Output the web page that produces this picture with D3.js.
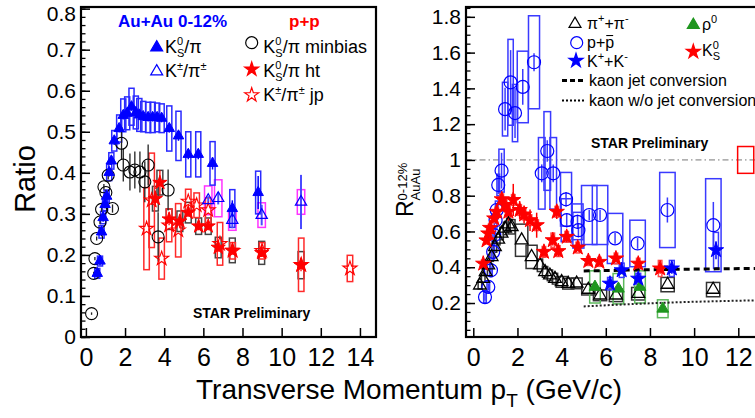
<!DOCTYPE html>
<html><head><meta charset="utf-8">
<script src="https://cdn.jsdelivr.net/npm/d3@7"></script>
<style>html,body{margin:0;padding:0;background:#fff;}svg{display:block;}text{white-space:pre;}</style>
</head><body>
<svg id="c" width="755" height="418"></svg>
<script>
// ---------------- LEFT PANEL DATA (Ratio vs pT) ----------------
const aaK0X   = [0.58,0.72,0.8,0.88,0.98,1.06,1.19,1.3,1.45,1.7,1.91,2.11,2.33,2.55,2.73,2.93,3.18,3.41,3.64,3.87,4.26,4.73,5.23,5.74,6.47,7.48,8.8];
const aaK0Y   = [0.155,0.185,0.256,0.291,0.323,0.343,0.401,0.429,0.478,0.508,0.54,0.545,0.561,0.547,0.541,0.537,0.535,0.535,0.535,0.533,0.508,0.49,0.445,0.445,0.423,0.313,0.352];
const aaK0Sys = [0.012,0.012,0.015,0.015,0.015,0.015,0.02,0.02,0.025,0.033,0.04,0.04,0.045,0.04,0.04,0.037,0.037,0.037,0.035,0.035,0.055,0.06,0.055,0.055,0.053,0.046,0.052];
const aaK0Err = [0.01,0.01,0.01,0.01,0.01,0.01,0.01,0.01,0.01,0.01,0.01,0.01,0.01,0.01,0.01,0.01,0.01,0.01,0.01,0.01,0.01,0.012,0.012,0.012,0.015,0.02,0.04];

const aaKchX   = [6.25,6.76,7.48,8.98,10.99];
const aaKchY   = [0.333,0.338,0.285,0.297,0.329];
const aaKchSys = [0.035,0.045,0.025,0.03,0.03];
const aaKchErr = [0.01,0.015,0.02,0.025,0.066];

const ppMbX   = [0.29,0.4,0.46,0.55,0.72,0.8,0.92,1.02,1.14,1.36,1.82,1.91,2.25,2.5,2.76,3.01,3.18,3.69,4.2];
const ppMbY   = [0.057,0.155,0.191,0.24,0.28,0.311,0.366,0.352,0.394,0.313,0.472,0.419,0.402,0.407,0.402,0.378,0.419,0.244,0.358];
const ppMbErr = [0.003,0.004,0.004,0.005,0.005,0.006,0.007,0.007,0.01,0.01,0.04,0.04,0.045,0.045,0.05,0.05,0.05,0.06,0.05];

const ppHtX   = [3.55,3.78,4.25,4.8,5.23,5.76,6.25,6.76,7.48,8.98,10.99];
const ppHtY   = [0.337,0.376,0.287,0.282,0.303,0.27,0.27,0.218,0.211,0.205,0.175];
const ppHtSys = [0.03,0.03,0.025,0.025,0.025,0.02,0.02,0.025,0.03,0.028,0.033];
const ppHtErr = [0.02,0.03,0.015,0.015,0.01,0.01,0.01,0.01,0.01,0.01,0.015];

const ppJpX   = [3.1,3.36,3.87,4.25,4.72,5.23,5.66,6.25,6.85,7.5,9.0,11.0,13.49];
const ppJpY   = [0.264,0.333,0.191,0.272,0.26,0.33,0.321,0.309,0.227,0.21,0.21,0.176,0.167];
const ppJpSys = [0.1,0.115,0.05,0.04,0.065,0.03,0.03,0.03,0.052,0.02,0.02,0.065,0.032];

const leftYTicks = [0,0.1,0.2,0.3,0.4,0.5,0.6,0.7,0.8];
const leftXTicks = [0,2,4,6,8,10,12,14];

// ---------------- RIGHT PANEL DATA (R_AA vs pT) ----------------
const piX   = [0.3,0.45,0.56,0.68,0.83,0.98,1.13,1.28,1.44,1.59,1.74,2.19,2.64,3.02,3.25,3.47,3.7,4.0,4.3,4.68,5.21,5.74,6.46,7.47,8.8,10.86];
const piY   = [0.299,0.336,0.374,0.411,0.458,0.514,0.555,0.589,0.617,0.641,0.626,0.551,0.458,0.411,0.374,0.355,0.336,0.318,0.308,0.31,0.275,0.243,0.243,0.252,0.303,0.275];
const piSys = [0.02,0.02,0.02,0.02,0.025,0.03,0.03,0.035,0.035,0.04,0.04,0.09,0.065,0.035,0.03,0.03,0.03,0.03,0.03,0.03,0.03,0.03,0.035,0.035,0.04,0.04];
const piBoxW= [0.08,0.08,0.08,0.08,0.08,0.08,0.08,0.08,0.08,0.08,0.15,0.28,0.25,0.12,0.12,0.12,0.12,0.25,0.25,0.25,0.3,0.3,0.3,0.3,0.3,0.3];

const prX   = [0.53,0.68,0.8,0.9,0.95,1.01,1.06,1.13,1.28,1.44,1.69,1.89,2.24,2.75,3.1,3.35,3.62,4.2,4.23,4.72,4.76,5.25,5.74,6.42,7.44,8.79,10.87];
const prY   = [0.233,0.29,0.383,0.486,0.579,0.663,0.72,0.86,0.94,1.284,1.434,1.262,1.408,1.546,0.925,1.05,0.925,0.78,0.663,0.654,0.607,0.692,0.692,0.561,0.533,0.72,0.635];
const prSys = [0.03,0.03,0.035,0.04,0.045,0.05,0.05,0.06,0.12,0.15,0.24,0.16,0.2,0.26,0.2,0.22,0.2,0.15,0.12,0.1,0.1,0.165,0.165,0.14,0.13,0.21,0.26];
const prErr = [0.02,0.02,0.02,0.02,0.02,0.02,0.03,0.05,0.1,0.12,0.18,0.14,0.1,0.05,0.05,0.06,0.05,0.04,0.04,0.04,0.04,0.03,0.03,0.03,0.03,0.07,0.13];
const prBoxW= [0.06,0.06,0.06,0.06,0.06,0.06,0.06,0.06,0.12,0.12,0.12,0.12,0.25,0.25,0.15,0.15,0.15,0.25,0.25,0.25,0.25,0.35,0.35,0.35,0.35,0.35,0.35];

const kchX   = [6.19,6.72,7.47,8.99,10.99];
const kchY   = [0.308,0.383,0.336,0.393,0.495];
const kchSys = [0.035,0.04,0.03,0.045,0.1];
const kchErr = [0.02,0.02,0.02,0.03,0.05];

const k0X   = [0.45,0.6,0.68,0.76,0.95,1.06,1.29,1.44,1.59,1.81,2.1,2.3,2.57,2.87,3.2,3.6,3.78,3.85,4.23,4.73,5.21,5.71,6.46,7.47,8.46];
const k0Y   = [0.42,0.55,0.589,0.62,0.673,0.71,0.78,0.748,0.71,0.776,0.72,0.695,0.663,0.635,0.486,0.551,0.71,0.49,0.57,0.51,0.435,0.43,0.449,0.42,0.393];
const k0Sys = [0.02,0.02,0.02,0.02,0.025,0.025,0.03,0.03,0.03,0.03,0.03,0.03,0.03,0.03,0.03,0.04,0.03,0.03,0.03,0.03,0.025,0.025,0.03,0.03,0.045];
const k0Err = [0.01,0.01,0.01,0.01,0.02,0.02,0.04,0.04,0.05,0.09,0.05,0.05,0.06,0.07,0.03,0.03,0.04,0.03,0.03,0.02,0.02,0.02,0.02,0.03,0.03];

const rhoX   = [5.51,6.57,7.55,8.58];
const rhoY   = [0.29,0.28,0.29,0.168];
const rhoSys = [0.09,0.085,0.09,0.05];

const jetX   = [5,7,9,11,13.2];
const jetY   = [0.379,0.384,0.388,0.391,0.394];
const noJetX = [5,7,9,11,13.2];
const noJetY = [0.181,0.193,0.203,0.21,0.216];

const rightYTicks = [0.2,0.4,0.6,0.8,1,1.2,1.4,1.6,1.8];
const rightXTicks = [0,2,4,6,8,10,12];

// ---------------- DRAWING ----------------
const FONT = "'Liberation Sans', Arial, Helvetica, sans-serif";
const NB = '\u00a0';
const svg = d3.select('#c');
const BLUE='#0000ff', RED='#ff0000', MAG='#ff33ff', GREEN='#1f961f', BLACK='#000';

const xL = d3.scaleLinear().domain([-0.25,14.82]).range([81,376]);
const yL = d3.scaleLinear().domain([0,0.804]).range([337,7]);
const xR = d3.scaleLinear().domain([-0.33,13.2]).range([466,764.8]);
const yR = d3.scaleLinear().domain([0.01,1.855]).range([337,7]);

const defs = svg.append('defs');
defs.append('clipPath').attr('id','clipL').append('rect').attr('x',82).attr('y',8).attr('width',293).attr('height',328);
defs.append('clipPath').attr('id','clipR').append('rect').attr('x',467).attr('y',8).attr('width',300).attr('height',328);

const gL = svg.append('g').attr('clip-path','url(#clipL)');
const gR = svg.append('g').attr('clip-path','url(#clipR)');

function zip(xs, ys, a, b){ return xs.map((x,i)=>({x, y:ys[i], s:a?a[i]:0, e:b?b[i]:0})); }

function boxes(g, x, y, data, hw, color, sw){
  const H = i => Array.isArray(hw) ? hw[i] : hw;
  g.append('g').selectAll('rect').data(data).join('rect')
    .attr('x', (d,i)=> x(d.x - H(i)))
    .attr('width', (d,i)=> x(d.x + H(i)) - x(d.x - H(i)))
    .attr('y', d=> y(d.y + d.s)).attr('height', d=> y(d.y - d.s) - y(d.y + d.s))
    .attr('fill','none').attr('stroke', color).attr('stroke-width', sw||1.5);
}
function errs(g, x, y, data, color, sw){
  g.append('g').selectAll('line').data(data.filter(d=>d.e>0)).join('line')
    .attr('x1', d=>x(d.x)).attr('x2', d=>x(d.x))
    .attr('y1', d=>y(d.y + d.e)).attr('y2', d=>y(d.y - d.e))
    .attr('stroke', color).attr('stroke-width', sw||1.5);
}
function marks(g, x, y, data, type, size, color, filled, sw){
  const sym = d3.symbol().type(type).size(size);
  g.append('g').selectAll('path').data(data).join('path')
    .attr('transform', d=>`translate(${x(d.x)},${y(d.y)})`)
    .attr('d', sym)
    .attr('fill', filled ? color : 'none')
    .attr('stroke', color).attr('stroke-width', sw||1.2);
}
function circles(g, x, y, data, r, color, sw){
  g.append('g').selectAll('circle').data(data).join('circle')
    .attr('cx', d=>x(d.x)).attr('cy', d=>y(d.y)).attr('r', r)
    .attr('fill','none').attr('stroke', color).attr('stroke-width', sw||1.2);
}

// ---- left panel marks ----
const dK0 = zip(aaK0X, aaK0Y, aaK0Sys, aaK0Err);
const dKch = zip(aaKchX, aaKchY, aaKchSys, aaKchErr);
const dMb = zip(ppMbX, ppMbY, null, ppMbErr);
const dHt = zip(ppHtX, ppHtY, ppHtSys, ppHtErr);
const dJp = zip(ppJpX, ppJpY, ppJpSys, null);

boxes(gL, xL, yL, dHt, 0.15, '#444', 1.5);
boxes(gL, xL, yL, dJp, 0.14, '#ff2a2a', 1.5);
boxes(gL, xL, yL, dKch, 0.19, MAG, 1.5);
boxes(gL, xL, yL, dK0, 0.13, '#2a2aff', 1.5);
errs(gL, xL, yL, dMb, '#222', 1.3);
errs(gL, xL, yL, dHt, RED, 1.3);
errs(gL, xL, yL, dKch, '#4a4aff', 2);
errs(gL, xL, yL, dK0, BLUE, 1.5);
circles(gL, xL, yL, dMb, 6, BLACK, 1.1);
marks(gL, xL, yL, dJp, d3.symbolStar, 62, RED, false, 1.1);
marks(gL, xL, yL, dHt, d3.symbolStar, 62, RED, true, 1);
marks(gL, xL, yL, dKch, d3.symbolTriangle, 55, BLUE, false, 1.2);
marks(gL, xL, yL, dK0, d3.symbolTriangle, 48, BLUE, true, 1);

// ---- right panel marks ----
gR.append('line').attr('x1',xR(-0.33)).attr('x2',xR(13.2)).attr('y1',yR(1)).attr('y2',yR(1))
  .attr('stroke','#777').attr('stroke-width',1).attr('stroke-dasharray','6,3,1.5,3');
gR.append('rect').attr('x',xR(11.97)).attr('width',xR(12.7)-xR(11.97))
  .attr('y',yR(1.075)).attr('height',yR(0.925)-yR(1.075)).attr('fill','none').attr('stroke',RED).attr('stroke-width',1.5);

const dPi = zip(piX, piY, piSys, null);
const dPr = zip(prX, prY, prSys, prErr);
const dKc = zip(kchX, kchY, kchSys, kchErr);
const dK0s = zip(k0X, k0Y, k0Sys, k0Err);
const dRho = zip(rhoX, rhoY, rhoSys, null);

boxes(gR, xR, yR, dPi, piBoxW, '#333', 1.5);
boxes(gR, xR, yR, dPr, prBoxW, '#3a3aff', 1.5);
boxes(gR, xR, yR, dRho, 0.24, '#5cb85c', 1.5);
boxes(gR, xR, yR, dKc, 0.11, '#3a3aff', 1.5);
boxes(gR, xR, yR, dK0s, 0.08, '#ff4a4a', 1.5);
errs(gR, xR, yR, dPr, '#3a3aff', 1.5);
errs(gR, xR, yR, dK0s, RED, 1.5);
errs(gR, xR, yR, dKc, BLUE, 1.5);

const line = d3.line().x(d=>xR(d.x)).y(d=>yR(d.y)).curve(d3.curveMonotoneX);
gR.append('path').attr('d', line(zip(jetX, jetY))).attr('fill','none').attr('stroke','#000').attr('stroke-width',3).attr('stroke-dasharray','6,4');
gR.append('path').attr('d', line(zip(noJetX, noJetY))).attr('fill','none').attr('stroke','#222').attr('stroke-width',2).attr('stroke-dasharray','2,2');

circles(gR, xR, yR, dPr, 6.5, BLUE, 1.2);
marks(gR, xR, yR, dPi, d3.symbolTriangle, 70, BLACK, false, 1.3);
marks(gR, xR, yR, dRho, d3.symbolTriangle, 60, GREEN, true, 1);
marks(gR, xR, yR, dK0s, d3.symbolStar, 72, RED, true, 1);
marks(gR, xR, yR, dKc, d3.symbolStar, 72, BLUE, true, 1);
gR.append('rect').attr('x',xR(-0.15)).attr('width',xR(0.08)-xR(-0.15)).attr('y',yR(0.012)).attr('height',3).attr('fill',RED);

// ---- frames and axes ----
function axes(x, y, xt, yt, yMinor, x0, x1, yFmt, ylabPad){
  const ga = svg.append('g').attr('font-family', FONT);
  const ay = ga.append('g').attr('transform',`translate(${x0},0)`)
    .call(d3.axisLeft(y).tickValues(yt).tickSize(-9).tickPadding(ylabPad).tickFormat(yFmt));
  ay.select('.domain').remove();
  ay.selectAll('text').attr('font-size',21).attr('font-family',FONT).attr('fill','#000');
  ay.selectAll('line').attr('stroke','#000').attr('stroke-width',1.5);
  const am = ga.append('g').attr('transform',`translate(${x0},0)`)
    .call(d3.axisLeft(y).tickValues(yMinor).tickSize(-4.5).tickFormat(''));
  am.select('.domain').remove();
  am.selectAll('line').attr('stroke','#000').attr('stroke-width',1.3);
  const ax = ga.append('g').attr('transform',`translate(0,337)`)
    .call(d3.axisBottom(x).tickValues(xt).tickSize(-9).tickPadding(11).tickFormat(d3.format('d')));
  ax.select('.domain').remove();
  ax.selectAll('text').attr('font-size',25).attr('font-family',FONT).attr('fill','#000');
  ax.selectAll('line').attr('stroke','#000').attr('stroke-width',1.5);
  svg.append('rect').attr('x',x0).attr('y',7).attr('width',x1-x0).attr('height',330)
    .attr('fill','none').attr('stroke','#000').attr('stroke-width',2.2);
  return ay;
}
const fmt = d => d3.format('.2~g')(d);
const leftMinor = d3.range(0, 41).map(i=> i*0.02).filter(v=> v<=0.804);
const rightMinor = d3.range(1, 38).map(i=> i*0.05).filter(v=> v<=1.855 && v>=0.01);
const ayL = axes(xL, yL, leftXTicks, leftYTicks, leftMinor, 81, 376, fmt, 5);
ayL.selectAll('.tick').filter(d=> d===0.8).select('text').attr('dy','0.55em');
axes(xR, yR, rightXTicks, rightYTicks, rightMinor, 466, 768, fmt, 5);

// ---- rich text helper: one <text> with positioned <tspan>s ----
function rich(parent, x, y, segs, opts){
  opts = opts || {};
  const g = parent.append('g');
  const t = g.append('text').attr('font-family', FONT)
    .attr('font-weight', opts.weight || 'normal').attr('fill', opts.color || '#000');
  let cx = x, lastStart = x;
  segs.forEach(s => {
    const sx = s.stack ? lastStart : cx;
    const ts = t.append('tspan').attr('x', sx).attr('y', y + (s.dy||0))
      .attr('font-size', s.size).text(s.t);
    if (s.color) ts.attr('fill', s.color);
    const w = ts.node().getComputedTextLength();
    if (s.over) {
      g.append('line').attr('x1', sx+1).attr('x2', sx+w-1)
        .attr('y1', y + (s.dy||0) - s.size*0.78).attr('y2', y + (s.dy||0) - s.size*0.78)
        .attr('stroke', s.color || opts.color || '#000').attr('stroke-width', 1.1);
    }
    if (!s.stack) { lastStart = sx; cx = sx + w; } else { cx = Math.max(cx, sx + w); }
  });
  return g;
}

// ---- left legend ----
svg.append('text').attr('x',118).attr('y',26.7).attr('font-family',FONT).attr('font-weight','bold')
  .attr('font-size',17).attr('fill',BLUE).text('Au+Au 0-12%');
svg.append('text').attr('x',289).attr('y',26.7).attr('font-family',FONT).attr('font-weight','bold')
  .attr('font-size',17).attr('fill',RED).text('p+p');

function legMark(x, y, kind, size, color, filled){
  if (kind === 'circle') {
    svg.append('circle').attr('cx',x).attr('cy',y).attr('r',size).attr('fill','none').attr('stroke',color).attr('stroke-width',1.2);
  } else {
    svg.append('path').attr('transform',`translate(${x},${y})`).attr('d', d3.symbol().type(kind).size(size)())
      .attr('fill', filled?color:'none').attr('stroke',color).attr('stroke-width',1.2);
  }
}
const LS = 18, LSS = 11;
legMark(156.7, 47.5, d3.symbolTriangle, 62, BLUE, true);
rich(svg, 165, 52.7, [{t:'K',size:LS},{t:'0',size:LSS,dy:-8},{t:'S',size:LSS,dy:4,stack:true},{t:'/π',size:LS}]);
legMark(156.7, 71.5, d3.symbolTriangle, 62, BLUE, false);
rich(svg, 165, 77, [{t:'K',size:LS},{t:'±',size:LSS,dy:-7},{t:'/π',size:LS},{t:'±',size:LSS,dy:-7}]);

legMark(251.7, 42.7, 'circle', 6, BLACK);
rich(svg, 263.3, 52.7, [{t:'K',size:LS},{t:'0',size:LSS,dy:-8},{t:'S',size:LSS,dy:4,stack:true},{t:'/π'+NB+'minbias',size:LS}]);
legMark(251.7, 69.3, d3.symbolStar, 60, RED, true);
rich(svg, 263.3, 76.5, [{t:'K',size:LS},{t:'0',size:LSS,dy:-8},{t:'S',size:LSS,dy:4,stack:true},{t:'/π'+NB+'ht',size:LS}]);
legMark(251.7, 95, d3.symbolStar, 60, RED, false);
rich(svg, 263.3, 101, [{t:'K',size:LS},{t:'±',size:LSS,dy:-7},{t:'/π',size:LS},{t:'±',size:LSS,dy:-7},{t:NB+'jp',size:LS}]);

svg.append('text').attr('x',193).attr('y',318).attr('font-family',FONT).attr('font-weight','bold')
  .attr('font-size',14).attr('fill','#000').text('STAR Preliminary');

// ---- right legend ----
const RS = 16, RSS = 11;
legMark(575, 24, d3.symbolTriangle, 62, BLACK, false);
rich(svg, 587, 28.5, [{t:'π',size:RS},{t:'+',size:RSS,dy:-7},{t:'+π',size:RS},{t:'-',size:RSS,dy:-7}]);
legMark(576.7, 42.7, 'circle', 6, BLUE);
rich(svg, 587, 48, [{t:'p+',size:RS},{t:'p',size:RS,over:true}]);
legMark(576, 60.7, d3.symbolStar, 62, BLUE, true);
rich(svg, 587, 66.5, [{t:'K',size:RS},{t:'+',size:RSS,dy:-7},{t:'+K',size:RS},{t:'-',size:RSS,dy:-7}]);
svg.append('line').attr('x1',562).attr('x2',585).attr('y1',80.5).attr('y2',80.5).attr('stroke','#000').attr('stroke-width',3).attr('stroke-dasharray','5,3');
svg.append('text').attr('x',589).attr('y',86).attr('font-family',FONT).attr('font-size',RS).text('kaon jet conversion');
svg.append('line').attr('x1',562).attr('x2',585).attr('y1',100.5).attr('y2',100.5).attr('stroke','#000').attr('stroke-width',2).attr('stroke-dasharray','2,2');
svg.append('text').attr('x',589).attr('y',106).attr('font-family',FONT).attr('font-size',RS).text('kaon w/o jet conversion');
legMark(693.3, 25, d3.symbolTriangle, 62, GREEN, true);
rich(svg, 702, 30, [{t:'ρ',size:RS},{t:'0',size:RSS,dy:-7}]);
legMark(693.3, 51.7, d3.symbolStar, 62, RED, true);
rich(svg, 702, 56, [{t:'K',size:RS},{t:'0',size:RSS,dy:-7},{t:'S',size:RSS,dy:4,stack:true}]);

svg.append('text').attr('x',591).attr('y',147.5).attr('font-family',FONT).attr('font-weight','bold')
  .attr('font-size',14).attr('fill','#000').text('STAR Preliminary');

// ---- axis titles ----
svg.append('text').attr('transform','translate(35,179) rotate(-90)').attr('text-anchor','middle')
  .attr('font-family',FONT).attr('font-size',29).text('Ratio');
const gy = svg.append('g').attr('transform','translate(413,217) rotate(-90)');
rich(gy, 0, 0, [{t:'R',size:23},{t:'0-12%',size:13,dy:-6.5},{t:'AuAu',size:13,dy:7,stack:true}]);

rich(svg, 196, 399, [{t:'Transverse Momentum p',size:28},{t:'T',size:19,dy:8},{t:NB+'(GeV/c)',size:28}]);
</script>
</body></html>
